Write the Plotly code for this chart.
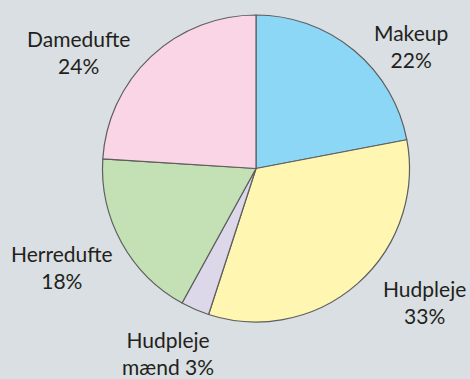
import plotly.graph_objects as go

labels = ["Makeup", "Hudpleje", "Hudpleje mænd", "Herredufte", "Damedufte"]
values = [22, 33, 3, 18, 24]
label_texts = ["Makeup<br>22%", "Hudpleje<br>33%", "Hudpleje<br>mænd 3%", "Herredufte<br>18%", "Damedufte<br>24%"]
colors = ["#8dd7f6", "#fff7b1", "#dcd7e9", "#c4e0b5", "#f9d5e5"]

# label placement (pixel centres in 470x379 canvas)
label_px = [(411, 46), (424, 302), (168, 353), (62, 267), (78, 52)]

W, H = 470, 379
fig = go.Figure(go.Pie(
    labels=labels, values=values, sort=False, direction="clockwise", rotation=0,
    marker=dict(colors=colors, line=dict(color="#5e5e5e", width=1.2)),
    textinfo="none", hoverinfo="label+percent",
    domain=dict(x=[102.5 / W, 409.5 / W], y=[1 - 322 / H, 1 - 15 / H]),
    showlegend=False,
))
for t, (px, py) in zip(label_texts, label_px):
    fig.add_annotation(x=px / W, y=1 - py / H, xref="paper", yref="paper", text=t,
                       showarrow=False, xanchor="center", yanchor="middle",
                       font=dict(family="Lato", size=21, color="#231f20"))
fig.update_layout(width=W, height=H, margin=dict(l=0, r=0, t=0, b=0),
                  paper_bgcolor="#d9dfe2", plot_bgcolor="#d9dfe2")
fig.write_html("out.html")
